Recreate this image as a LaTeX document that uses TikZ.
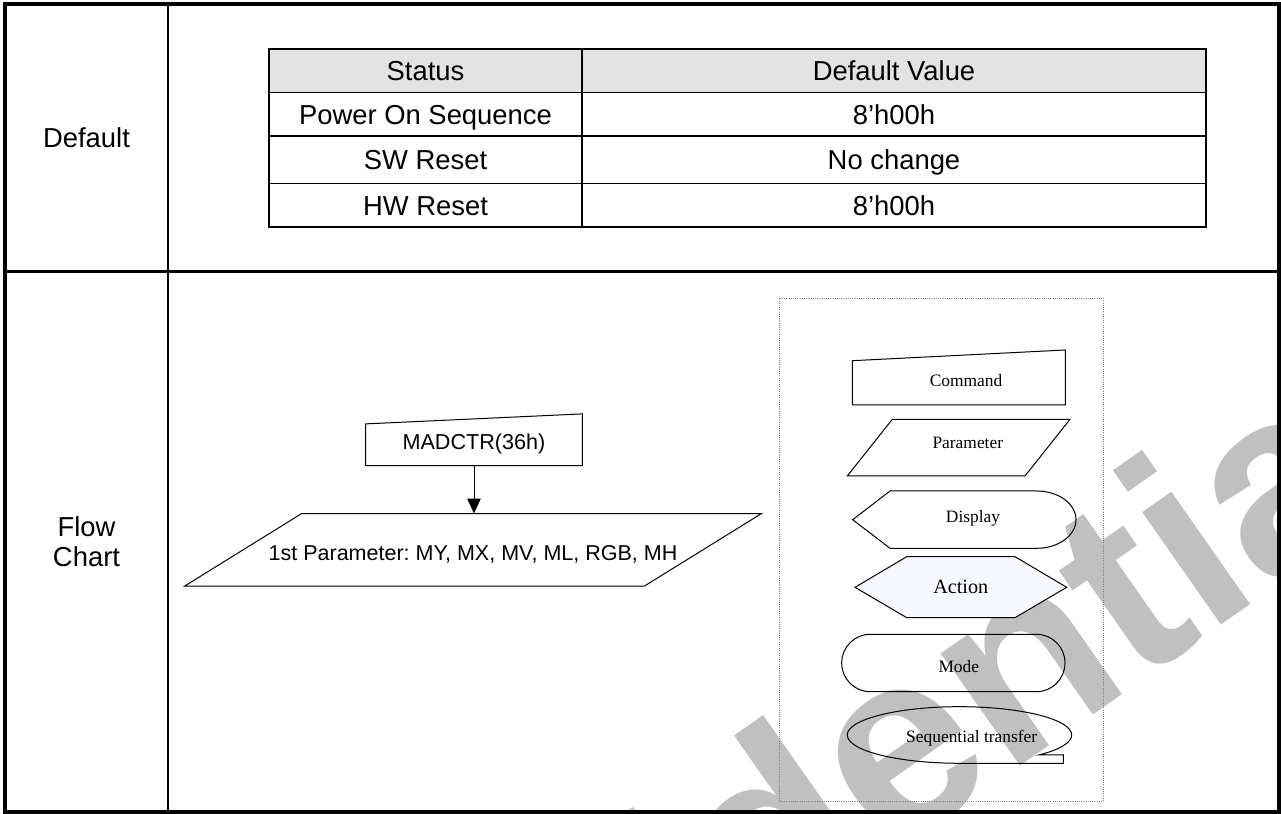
\documentclass[tikz,border=0pt]{standalone}
\usepackage{fontspec}
\setmainfont{Liberation Sans}
\newfontfamily\tnr{Liberation Serif}
\usetikzlibrary{arrows.meta}
\definecolor{wmgray}{RGB}{192,192,192}
\definecolor{actfill}{RGB}{247,249,255}
\frenchspacing
\begin{document}
\begin{tikzpicture}[x=0.5pt,y=0.5pt,
  tbl/.style={font=\fontsize{13.7}{15}\selectfont,text height=9.8pt,text depth=0pt,inner sep=0pt},
  lgd/.style={font=\tnr\fontsize{8.7}{10}\selectfont,text height=5.76pt,text depth=0pt,inner sep=0pt},
  shp/.style={draw,line width=0.5pt,line join=miter}]
  \useasboundingbox (0,0) rectangle (1281,814);
  % watermark behind everything
  \begin{scope}
    \clip (7,4) rectangle (1277,807);
    \node[text=wmgray,font=\bfseries\fontsize{130}{130}\selectfont,rotate=35,anchor=base west,inner sep=0pt] (wmark) at (212,-518) {Confidential};
  \end{scope}
  % outer frame
  \draw[line width=2pt] (5,2) rectangle (1279,809.5);
  \draw[line width=1.25pt] (168,2) -- (168,809.5);
  \draw[line width=1.25pt] (5,542.5) -- (1279,542.5);
  \node[tbl] (lbldef) at (86.5,676) {Default};
  \node[tbl,align=center,text height=] (lblflow) at (86.5,272) {Flow\\Chart};
  % default value table
  \fill[black!11] (269,721.5) rectangle (1206,765);
  \draw[line width=0.85pt] (269,587) rectangle (1206,765);
  \draw[line width=0.85pt] (269,721.5) -- (1206,721.5) (269,678) -- (1206,678) (269,630.5) -- (1206,630.5);
  \draw[line width=0.85pt] (582,587) -- (582,765);
  \node[tbl] (hstat) at (425.5,743.25) {Status};
  \node[tbl] (hval) at (894,743.25) {Default Value};
  \node[tbl] (pwr) at (425.5,699.75) {Power On Sequence};
  \node[tbl] (pwrv) at (894,699.75) {8'h00h};
  \node[tbl] (swr) at (425.5,654.25) {SW Reset};
  \node[tbl] (swrv) at (894,654.25) {No change};
  \node[tbl] (hwr) at (425.5,608.75) {HW Reset};
  \node[tbl] (hwrv) at (894,608.75) {8'h00h};
  % flow chart
  \node[minimum width=108pt,minimum height=20.5pt,inner sep=0pt,font=\fontsize{10.8}{12}\selectfont,text height=7.73pt,text depth=3.5pt] (madctr) at (474,369.2) {MADCTR(36h)};
  \draw[shp] (madctr.south west) -- (madctr.south east) -- ([yshift=5pt]madctr.north east) -- (madctr.north west) -- cycle;
  \node[minimum width=229.5pt,minimum height=35.85pt,inner sep=0pt,font=\fontsize{10.75}{12}\selectfont,text height=10.2pt,text depth=0pt] (par1) at (473,264.15) {1st Parameter: MY, MX, MV, ML, RGB, MH};
  \draw[shp] ([xshift=-29.25pt]par1.south west) -- ([xshift=-29.25pt]par1.south east) -- ([xshift=29.25pt]par1.north east) -- ([xshift=29.25pt]par1.north west) -- cycle;
  \draw[line width=0.5pt,-{Triangle[length=7.5pt,width=6.7pt]}] (madctr.south) -- (madctr.south |- par1.north);
  % legend
  \draw[gray,line width=0.3pt,dash pattern=on 0.5pt off 0.6pt] (779,13) rectangle (1103,516);
  \draw[shp] (852.3,409) -- (1065.3,409) -- (1065.3,464) -- (852.3,453.3) -- cycle;
  \node[lgd] (lcmd) at (966,433) {Command};
  \draw[shp] (847.3,338) -- (1025,338) -- (1070,394.7) -- (892.3,394.7) -- cycle;
  \node[lgd] (lpar) at (967.8,371) {Parameter};
  \draw[shp] (852.7,294.3) -- (890,323) -- (1036.7,323) arc[start angle=90,end angle=-90,x radius=19.65pt,y radius=14.33pt] -- (890,265.7) -- cycle;
  \node[lgd] (ldisp) at (973,297.2) {Display};
  \draw[shp,fill=actfill] (855,226.7) -- (906.7,257.3) -- (1015,257.3) -- (1066.7,226.7) -- (1015,196.3) -- (906.7,196.3) -- cycle;
  \node[lgd,font=\tnr\fontsize{10.1}{12}\selectfont,text height=6.69pt] (lact) at (960.8,227) {Action};
  \draw[shp,rounded corners=14.3pt] (841.7,122.3) rectangle (1065,179.7);
  \node[lgd] (lmode) at (958.8,147) {Mode};
  \draw[shp] (1038.8,59) arc[start angle=-45,end angle=270,x radius=56.1pt,y radius=14.15pt] -- (1063.3,50.7) -- (1063.3,59) -- cycle;
  \node[lgd] (lseq) at (971.7,77.3) {Sequential transfer};
\end{tikzpicture}
\end{document}
